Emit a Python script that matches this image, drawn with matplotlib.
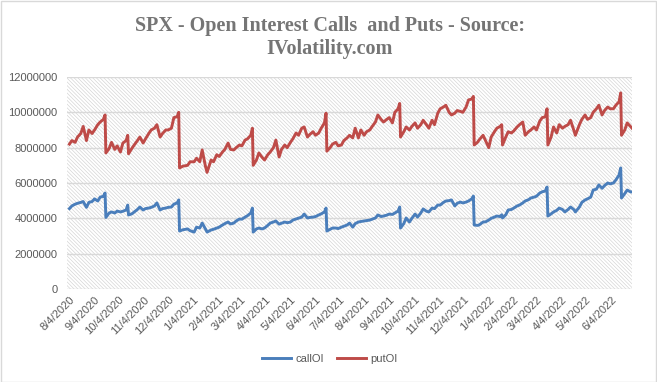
import matplotlib
matplotlib.use("Agg")
import matplotlib.pyplot as plt
from matplotlib.patches import Rectangle
import numpy as np
import pandas as pd

# Dates of the readings (about two per week)
dates = [
    "2020-08-04", "2020-08-07", "2020-08-11", "2020-08-14", "2020-08-18", "2020-08-21", "2020-08-25", "2020-08-28",
    "2020-09-01", "2020-09-04", "2020-09-08", "2020-09-11", "2020-09-15", "2020-09-17", "2020-09-18", "2020-09-22",
    "2020-09-25", "2020-09-29", "2020-10-02", "2020-10-06", "2020-10-09", "2020-10-13", "2020-10-15", "2020-10-16",
    "2020-10-20", "2020-10-23", "2020-10-27", "2020-10-30", "2020-11-03", "2020-11-06", "2020-11-10", "2020-11-13",
    "2020-11-17", "2020-11-20", "2020-11-24", "2020-11-27", "2020-12-01", "2020-12-04", "2020-12-08", "2020-12-11",
    "2020-12-15", "2020-12-17", "2020-12-18", "2020-12-22", "2020-12-28", "2020-12-31",
    "2021-01-05", "2021-01-08", "2021-01-12", "2021-01-15", "2021-01-19", "2021-01-21", "2021-01-26", "2021-01-29",
    "2021-02-02", "2021-02-05", "2021-02-09", "2021-02-12", "2021-02-16", "2021-02-19", "2021-02-23", "2021-02-26",
    "2021-03-02", "2021-03-05", "2021-03-09", "2021-03-12", "2021-03-16", "2021-03-18", "2021-03-19", "2021-03-23",
    "2021-03-26", "2021-03-30", "2021-04-02", "2021-04-06", "2021-04-09", "2021-04-13", "2021-04-16", "2021-04-20",
    "2021-04-23", "2021-04-27", "2021-04-30", "2021-05-04", "2021-05-07", "2021-05-11", "2021-05-14", "2021-05-18",
    "2021-05-21", "2021-05-25", "2021-05-28", "2021-06-01", "2021-06-04", "2021-06-08", "2021-06-11", "2021-06-15",
    "2021-06-17", "2021-06-18", "2021-06-22", "2021-06-25", "2021-06-29", "2021-07-02", "2021-07-06", "2021-07-09",
    "2021-07-13", "2021-07-16", "2021-07-20", "2021-07-23", "2021-07-27", "2021-07-30", "2021-08-03", "2021-08-06",
    "2021-08-10", "2021-08-13", "2021-08-17", "2021-08-20", "2021-08-24", "2021-08-27", "2021-08-31", "2021-09-03",
    "2021-09-07", "2021-09-10", "2021-09-14", "2021-09-16", "2021-09-17", "2021-09-21", "2021-09-24", "2021-09-28",
    "2021-10-01", "2021-10-05", "2021-10-08", "2021-10-12", "2021-10-15", "2021-10-19", "2021-10-22", "2021-10-26",
    "2021-10-29", "2021-11-02", "2021-11-05", "2021-11-09", "2021-11-12", "2021-11-16", "2021-11-19", "2021-11-23",
    "2021-11-26", "2021-11-30", "2021-12-03", "2021-12-07", "2021-12-10", "2021-12-14", "2021-12-16", "2021-12-17",
    "2021-12-21", "2021-12-23", "2021-12-28", "2021-12-31",
    "2022-01-04", "2022-01-07", "2022-01-11", "2022-01-14", "2022-01-18", "2022-01-20", "2022-01-21", "2022-01-25",
    "2022-01-28", "2022-02-01", "2022-02-04", "2022-02-08", "2022-02-11", "2022-02-15", "2022-02-18", "2022-02-22",
    "2022-02-25", "2022-03-01", "2022-03-04", "2022-03-08", "2022-03-11", "2022-03-15", "2022-03-17", "2022-03-18",
    "2022-03-22", "2022-03-25", "2022-03-29", "2022-04-01", "2022-04-05", "2022-04-08", "2022-04-12", "2022-04-15",
    "2022-04-19", "2022-04-21", "2022-04-26", "2022-04-29", "2022-05-03", "2022-05-06", "2022-05-10", "2022-05-13",
    "2022-05-17", "2022-05-20", "2022-05-24", "2022-05-27", "2022-05-31", "2022-06-03", "2022-06-07", "2022-06-10",
    "2022-06-14", "2022-06-16", "2022-06-17", "2022-06-21", "2022-06-24", "2022-06-28", "2022-06-30",
]

# Put open interest, millions
put_oi = [
    8.20, 8.40, 8.30, 8.60, 8.80, 9.20, 8.40, 9.00,
    8.80, 9.00, 9.30, 9.45, 9.60, 9.85, 7.70, 7.95,
    8.30, 7.90, 8.10, 7.75, 8.26, 8.40, 8.70, 7.65,
    7.95, 8.15, 8.40, 8.60, 8.26, 8.50, 8.80, 9.00,
    9.10, 9.30, 8.60, 8.80, 9.00, 9.00, 9.10, 9.70,
    9.75, 10.00, 6.85, 6.95, 7.00, 7.20,
    7.20, 7.40, 7.20, 7.87, 6.95, 6.60, 7.30, 7.20,
    7.60, 7.50, 7.75, 7.90, 8.26, 7.90, 7.87, 8.00,
    8.15, 8.10, 8.43, 8.50, 8.70, 9.10, 7.00, 7.30,
    7.70, 7.45, 7.30, 7.60, 7.75, 8.00, 8.43, 7.47,
    7.90, 8.15, 8.00, 8.30, 8.50, 8.83, 8.70, 9.10,
    9.17, 8.60, 8.75, 8.90, 8.70, 8.83, 9.10, 9.40,
    9.95, 7.80, 8.00, 8.20, 8.30, 8.10, 8.15, 8.40,
    8.55, 8.70, 8.55, 9.10, 8.55, 9.00, 8.70, 8.90,
    9.00, 9.20, 9.45, 9.85, 9.60, 9.45, 9.60, 9.70,
    9.40, 10.00, 10.20, 10.50, 8.60, 8.90, 9.17, 9.00,
    9.20, 9.40, 9.10, 9.30, 9.55, 9.30, 9.10, 9.55,
    9.30, 9.95, 10.20, 10.30, 10.40, 10.00, 9.85, 9.95,
    10.10, 10.05, 10.00, 10.30, 10.70, 10.75, 10.90, 8.15,
    8.30, 8.43, 8.70, 8.40,
    8.00, 8.60, 8.90, 9.10, 9.20, 9.30, 8.15, 8.60,
    8.90, 8.83, 8.95, 9.17, 9.30, 9.45, 8.70, 8.90,
    9.00, 9.17, 9.00, 9.50, 9.70, 9.75, 10.20, 8.15,
    8.60, 9.17, 8.83, 9.30, 9.10, 9.20, 9.30, 9.55,
    9.00, 8.70, 9.30, 9.60, 9.85, 9.60, 9.70, 10.00,
    10.20, 10.40, 9.85, 10.10, 10.30, 10.20, 10.20, 10.40,
    10.60, 11.10, 8.70, 9.00, 9.40, 9.20, 9.10,
]

# Call open interest, millions
call_oi = [
    4.55, 4.70, 4.80, 4.85, 4.90, 4.95, 4.62, 4.90,
    4.95, 5.10, 4.98, 5.20, 5.25, 5.43, 4.05, 4.30,
    4.36, 4.30, 4.41, 4.36, 4.40, 4.47, 4.75, 4.19,
    4.25, 4.36, 4.50, 4.64, 4.47, 4.55, 4.58, 4.62,
    4.70, 4.87, 4.47, 4.55, 4.58, 4.62, 4.64, 4.80,
    4.87, 5.04, 3.28, 3.35, 3.40, 3.30,
    3.22, 3.50, 3.45, 3.73, 3.40, 3.22, 3.34, 3.38,
    3.45, 3.50, 3.62, 3.70, 3.79, 3.68, 3.73, 3.85,
    3.96, 3.95, 4.07, 4.15, 4.30, 4.58, 3.22, 3.40,
    3.45, 3.40, 3.45, 3.60, 3.73, 3.79, 3.85, 3.67,
    3.72, 3.79, 3.75, 3.79, 3.90, 3.96, 4.00, 4.07,
    4.24, 4.02, 4.05, 4.07, 4.10, 4.19, 4.25, 4.36,
    4.58, 3.28, 3.38, 3.45, 3.45, 3.42, 3.50, 3.55,
    3.62, 3.73, 3.50, 3.70, 3.79, 3.82, 3.85, 3.87,
    3.90, 3.95, 4.02, 4.19, 4.10, 4.13, 4.18, 4.24,
    4.22, 4.30, 4.41, 4.64, 3.45, 3.70, 4.02, 3.79,
    4.00, 4.24, 4.07, 4.30, 4.53, 4.40, 4.36, 4.58,
    4.55, 4.75, 4.75, 4.90, 4.98, 5.00, 5.04, 4.70,
    4.85, 4.92, 4.87, 4.92, 4.98, 5.10, 5.26, 3.62,
    3.60, 3.62, 3.79, 3.80,
    3.90, 4.00, 4.07, 4.13, 4.10, 4.20, 4.02, 4.20,
    4.47, 4.50, 4.58, 4.70, 4.75, 4.87, 4.98, 5.05,
    5.15, 5.20, 5.25, 5.43, 5.50, 5.55, 5.77, 4.13,
    4.25, 4.36, 4.45, 4.58, 4.50, 4.36, 4.50, 4.64,
    4.50, 4.36, 4.64, 4.90, 5.04, 5.10, 5.20, 5.60,
    5.65, 5.89, 5.70, 5.85, 6.00, 5.95, 6.00, 6.17,
    6.45, 6.85, 5.15, 5.40, 5.60, 5.50, 5.49,
]

# Monthly tick dates (4th of each month) and y ticks
tick_dates = pd.date_range("2020-08-01", "2022-06-01", freq="MS") + pd.Timedelta(days=3)
tick_labels = [f"{d.month}/{d.day}/{d.year}" for d in tick_dates]
y_ticks = [0, 2000000, 4000000, 6000000, 8000000, 10000000, 12000000]

x = pd.to_datetime(dates)
put_vals = np.array(put_oi) * 1e6
call_vals = np.array(call_oi) * 1e6

plt.rcParams["hatch.linewidth"] = 0.45
fig = plt.figure(figsize=(6.57, 3.82), dpi=100)
ax = fig.add_axes([0.102, 0.2435, 0.860, 0.555])

# Hatched plot area like the Excel chart
ax.set_facecolor("white")
ax.add_patch(Rectangle((0, 0), 1, 1, transform=ax.transAxes, facecolor="white",
                       edgecolor="#d2d2d2", hatch="\\" * 9, linewidth=0, zorder=0))

# Gridlines
for v in y_ticks:
    ax.axhline(v, color="#d9d9d9", lw=1.0, zorder=1)

# Lines
ax.plot(x, call_vals, color="#4a7ebb", lw=2.1, label="callOI", zorder=3, solid_joinstyle="round")
ax.plot(x, put_vals, color="#be4b48", lw=2.1, label="putOI", zorder=3, solid_joinstyle="round")

ax.set_xlim(pd.Timestamp("2020-08-01"), pd.Timestamp("2022-06-30"))
ax.set_ylim(0, 12000000)
ax.set_yticks(y_ticks)
ax.set_yticklabels([str(v) for v in y_ticks])
ax.set_xticks(tick_dates)
ax.set_xticklabels(tick_labels, rotation=45, ha="right", rotation_mode="anchor")
ax.tick_params(axis="both", length=0, labelsize=8, labelcolor="#595959")
ax.tick_params(axis="y", pad=7)
ax.tick_params(axis="x", pad=4)
for lab in ax.get_xticklabels() + ax.get_yticklabels():
    lab.set_family("Liberation Sans")
for s in ax.spines.values():
    s.set_visible(False)

# Title
fig.text(0.502, 0.903, "SPX - Open Interest Calls  and Puts - Source:\nIVolatility.com",
         ha="center", va="center", fontsize=14.5, fontweight="bold", color="#757575",
         family="Liberation Serif", linespacing=1.2)

# Legend at the bottom
leg = fig.legend(loc="center", bbox_to_anchor=(0.502, 0.06), ncol=2, frameon=False,
                 handlelength=2.6, columnspacing=1.2, handletextpad=0.4,
                 prop={"family": "Liberation Sans", "size": 8})
for t in leg.get_texts():
    t.set_color("#595959")

# Chart border
fig.patches.append(Rectangle((0.001, 0.001), 0.997, 0.997, transform=fig.transFigure,
                             fill=False, edgecolor="#d9d9d9", lw=1))

fig.savefig("out.png", dpi=100)
